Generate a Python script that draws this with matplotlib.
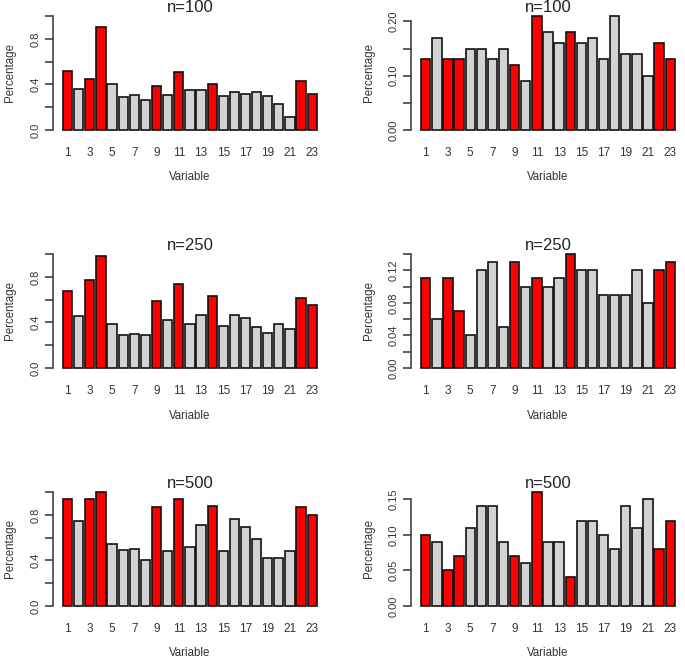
import matplotlib
matplotlib.use("Agg")
import matplotlib.pyplot as plt
import numpy as np

plt.rcParams['font.family'] = ['Liberation Sans', 'DejaVu Sans']

variables = list(range(1, 24))
highlight = [1, 3, 4, 9, 11, 14, 22, 23]

left_n100 = [0.52, 0.36, 0.45, 0.90, 0.40, 0.29, 0.31, 0.26, 0.39, 0.31, 0.51, 0.35,
             0.35, 0.40, 0.30, 0.33, 0.32, 0.33, 0.30, 0.23, 0.11, 0.43, 0.32]
right_n100 = [0.13, 0.17, 0.13, 0.13, 0.15, 0.15, 0.13, 0.15, 0.12, 0.09, 0.21, 0.18,
              0.16, 0.18, 0.16, 0.17, 0.13, 0.21, 0.14, 0.14, 0.10, 0.16, 0.13]
left_n250 = [0.68, 0.46, 0.77, 0.98, 0.39, 0.29, 0.30, 0.285, 0.585, 0.42, 0.735, 0.385,
             0.465, 0.635, 0.37, 0.465, 0.44, 0.36, 0.31, 0.385, 0.34, 0.61, 0.555]
right_n250 = [0.11, 0.06, 0.11, 0.07, 0.04, 0.12, 0.13, 0.05, 0.13, 0.10, 0.11, 0.10,
              0.11, 0.14, 0.12, 0.12, 0.09, 0.09, 0.09, 0.12, 0.08, 0.12, 0.13]
left_n500 = [0.935, 0.75, 0.935, 1.00, 0.54, 0.49, 0.50, 0.40, 0.87, 0.48, 0.94, 0.52,
             0.71, 0.88, 0.48, 0.76, 0.69, 0.59, 0.42, 0.42, 0.48, 0.87, 0.80]
right_n500 = [0.10, 0.09, 0.05, 0.07, 0.11, 0.14, 0.14, 0.09, 0.07, 0.06, 0.16, 0.09,
              0.09, 0.04, 0.12, 0.12, 0.10, 0.08, 0.14, 0.11, 0.15, 0.08, 0.12]

titles = ["n=100", "n=100", "n=250", "n=250", "n=500", "n=500"]
series = [left_n100, right_n100, left_n250, right_n250, left_n500, right_n500]
ytop = [1.0, None, 1.0, None, 1.0, None]
yticks = [
    [0, 0.2, 0.4, 0.6, 0.8, 1.0],
    [0, 0.05, 0.10, 0.15, 0.20],
    [0, 0.2, 0.4, 0.6, 0.8, 1.0],
    [0, 0.02, 0.04, 0.06, 0.08, 0.10, 0.12, 0.14],
    [0, 0.2, 0.4, 0.6, 0.8, 1.0],
    [0, 0.05, 0.10, 0.15],
]
ytlabels = [
    ["0.0", "", "0.4", "", "0.8", ""],
    ["0.00", "", "0.10", "", "0.20"],
    ["0.0", "", "0.4", "", "0.8", ""],
    ["0.00", "", "0.04", "", "0.08", "", "0.12", ""],
    ["0.0", "", "0.4", "", "0.8", ""],
    ["0.00", "0.05", "0.10", "0.15"],
]

W, H = 685, 658
fig = plt.figure(figsize=(W / 100, H / 100), dpi=100)

col_x = [(52.8, 327.0), (411.0, 685.0)]
row_y = [(11.5, 134.5), (249.5, 372.5), (487.5, 610.5)]
TXT = '#333333'

for k in range(6):
    r, c = divmod(k, 2)
    x0, x1 = col_x[c]
    y0, y1 = row_y[r]
    ax = fig.add_axes([x0 / W, 1 - y1 / H, (x1 - x0) / W, (y1 - y0) / H])
    vals = series[k]
    pos = 0.7 + 1.2 * np.arange(len(vals))
    colors = ['#FF0000' if v in highlight else '#D3D3D3' for v in variables]
    ax.bar(pos, vals, width=1.0, color=colors, edgecolor='#111111', linewidth=1.2)
    xl = (0.2, 27.6)
    dx = (xl[1] - xl[0]) * 0.04
    ax.set_xlim(xl[0] - dx, xl[1] + dx)
    top = ytop[k] if ytop[k] is not None else max(vals)
    dy = top * 0.04
    ax.set_ylim(-dy, top + dy)
    for s in ['top', 'right', 'bottom']:
        ax.spines[s].set_visible(False)
    ax.spines['left'].set_bounds(yticks[k][0], yticks[k][-1])
    ax.spines['left'].set_color(TXT)
    ax.spines['left'].set_linewidth(1.1)
    ax.set_yticks(yticks[k])
    ax.set_yticklabels(ytlabels[k], rotation=90, va='center', fontsize=8, color=TXT)
    ax.tick_params(axis='y', length=6, width=1.1, color=TXT, pad=3)
    ax.set_xticks(pos[::2])
    ax.set_xticklabels([str(v) for v in variables[::2]], fontsize=8.5, color=TXT)
    ax.tick_params(axis='x', length=0, pad=9)
    ax.set_xlabel("Variable", fontsize=8.3, color=TXT, labelpad=9)
    ax.set_ylabel("Percentage", fontsize=8.3, color=TXT, labelpad=10)
    ax.text(0.5, 1.03, titles[k], transform=ax.transAxes, ha='center', va='center',
            fontsize=12, color='#222222')

fig.savefig("out.png", dpi=100)
